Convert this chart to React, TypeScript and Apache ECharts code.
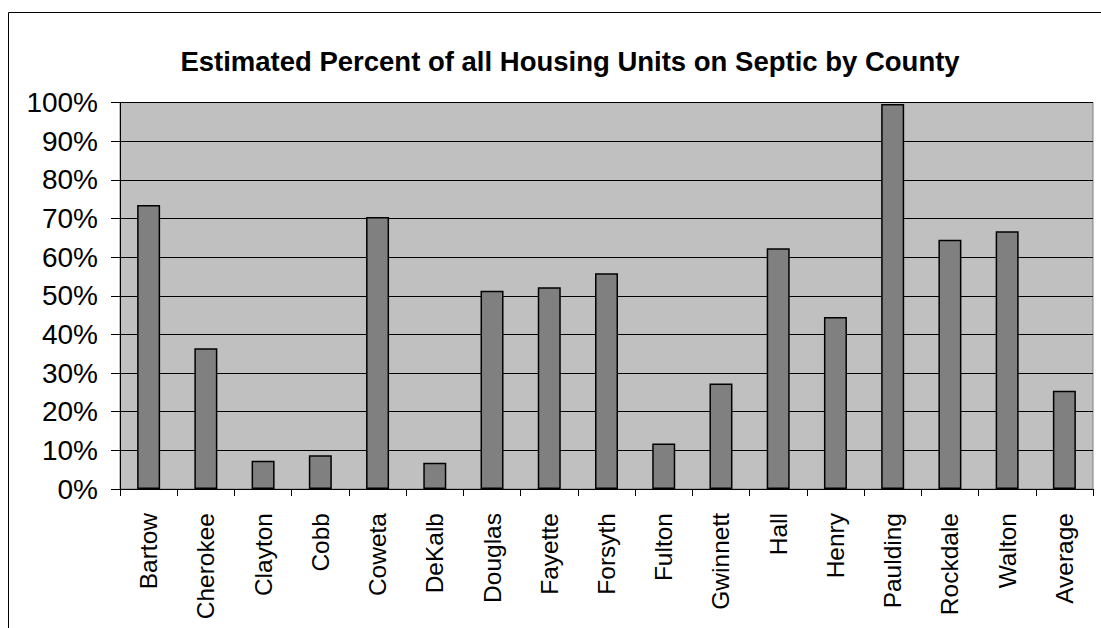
import React, { useEffect, useRef } from "react";
import * as echarts from "echarts";

const counties = [
  "Bartow", "Cherokee", "Clayton", "Cobb", "Coweta", "DeKalb", "Douglas", "Fayette",
  "Forsyth", "Fulton", "Gwinnett", "Hall", "Henry", "Paulding", "Rockdale", "Walton", "Average",
];
const septicPercent = [
  73.5, 36.4, 7.3, 8.7, 70.4, 6.8, 51.3, 52.2, 55.8, 11.8, 27.3, 62.3, 44.5, 99.6, 64.5, 66.7, 25.4,
];
const titleText = "Estimated Percent of all Housing Units on Septic by County";

export default function App() {
  const ref = useRef<HTMLDivElement>(null);
  useEffect(() => {
    if (!ref.current) return;
    const chart = echarts.init(ref.current, null, { renderer: "svg" });
    const font = "Liberation Sans";
    chart.setOption({
      animation: false,
      backgroundColor: "#ffffff",
      title: {
        text: titleText,
        left: 565,
        top: 42,
        textAlign: "center",
        textStyle: { fontFamily: font, fontSize: 27.5, fontWeight: "bold", color: "#000" },
      },
      graphic: [
        {
          type: "rect",
          shape: { x: 8.5, y: 12.5, width: 1200, height: 700 },
          style: { fill: "none", stroke: "#000", lineWidth: 1 },
          silent: true,
        },
      ],
      grid: {
        left: 120,
        top: 102.5,
        right: 8,
        bottom: 139,
        show: true,
        backgroundColor: "#C0C0C0",
        borderColor: "#808080",
        borderWidth: 1,
      },
      xAxis: {
        type: "category",
        data: counties,
        boundaryGap: true,
        axisLine: { show: true, lineStyle: { color: "#000", width: 1 } },
        axisTick: { show: true, length: 7, alignWithLabel: false, lineStyle: { color: "#000" } },
        axisLabel: {
          rotate: 90,
          interval: 0,
          margin: 24,
          fontFamily: font,
          fontSize: 24.5,
          color: "#000",
        },
      },
      yAxis: {
        type: "value",
        min: 0,
        max: 100,
        interval: 10,
        axisLine: { show: true, lineStyle: { color: "#000", width: 1 } },
        axisTick: { show: true, length: 9, lineStyle: { color: "#000" } },
        axisLabel: {
          formatter: "{value}%",
          margin: 22,
          fontFamily: font,
          fontSize: 28,
          color: "#000",
        },
        splitLine: { show: true, lineStyle: { color: "#000", width: 1 } },
      },
      series: [
        {
          type: "bar",
          data: septicPercent,
          barWidth: 23,
          itemStyle: { color: "#808080", borderColor: "#000", borderWidth: 1.5 },
        },
      ],
    });
    return () => chart.dispose();
  }, []);
  return (
    <div
      ref={ref}
      style={{ position: "fixed", left: 0, top: 0, width: 1101, height: 628 }}
    />
  );
}
